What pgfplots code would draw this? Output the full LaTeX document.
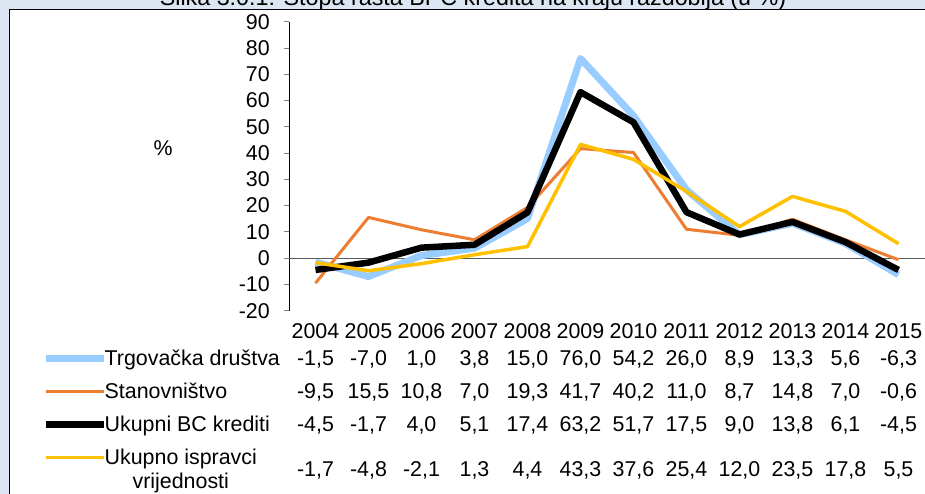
\documentclass[border=0pt]{standalone}
\usepackage{fontspec}
\setmainfont{Liberation Sans}
\usepackage{pgfplots}
\pgfplotsset{compat=1.18}
\definecolor{bg}{HTML}{DCE6F2}
\definecolor{trg}{RGB}{153,204,255}
\definecolor{stan}{HTML}{ED7D31}
\definecolor{isp}{HTML}{FFC000}
\definecolor{zeroline}{HTML}{595959}
\begin{document}
\fontsize{21.4}{24}\selectfont
\begin{tikzpicture}[x=1pt,y=1pt]
\fill[bg] (-289,-183.3) rectangle (636,310.7);
\filldraw[fill=white, draw=black, line width=1.8pt] (-279.5,301.2) rectangle (660,-220);
\node[anchor=base, inner sep=0pt, font=\fontsize{23.3}{26}\selectfont] at (184,304.7) {Slika 3.0.1: Stopa rasta BPC kredita na kraju razdoblja (u \%)};
\begin{axis}[
  scale only axis, width=636pt, height=289pt,
  xmin=-0.5, xmax=11.5, ymin=-20, ymax=90,
  axis lines=left, axis line style={-, line width=0.8pt},
  x axis line style={draw=none},
  xtick={0,...,11},
  xticklabels={2004,2005,2006,2007,2008,2009,2010,2011,2012,2013,2014,2015},
  xtick style={draw=none},
  ytick={-20,-10,...,90},
  tick align=outside, major tick length=5pt,
  ytick style={line width=0.8pt},
  /pgf/number format/assume math mode=true,
  tick label style={font=\fontsize{21.4}{24}\selectfont},
  xticklabel style={anchor=base, inner sep=0pt, yshift=-23pt},
  yticklabel style={anchor=east, inner sep=0pt, xshift=-14pt},
  ylabel={\%}, ylabel style={rotate=-90, anchor=center, font=\fontsize{21.4}{24}\selectfont},
  every axis y label/.style={at={(axis description cs:-0.198,0.563)}},
  legend cell align=left,
  legend style={at={(axis description cs:-0.3873,-0.1377)}, anchor=north west,
    draw=none, fill=none, inner sep=0pt, outer sep=0pt,
    nodes={inner sep=0pt, anchor=base west, text height=15pt, text depth=5pt},
    row sep=13pt, column sep=-3pt,
    font=\fontsize{21.4}{24}\selectfont},
  legend image code/.code={\draw[#1] (0pt,7pt) -- (58pt,7pt);},
  line join=round,
]
\addplot[zeroline, line width=0.8pt, forget plot] coordinates {(-0.5,0) (11.5,0)};
\addplot[trg, line width=7pt] coordinates {(0,-1.5) (1,-7.0) (2,1.0) (3,3.8) (4,15.0) (5,76.0) (6,54.2) (7,26.0) (8,8.9) (9,13.3) (10,5.6) (11,-6.3)};
\addlegendentry{Trgovačka društva}
\addplot[stan, line width=3pt] coordinates {(0,-9.5) (1,15.5) (2,10.8) (3,7.0) (4,19.3) (5,41.7) (6,40.2) (7,11.0) (8,8.7) (9,14.8) (10,7.0) (11,-0.6)};
\addlegendentry{Stanovništvo}
\addplot[black, line width=6.5pt] coordinates {(0,-4.5) (1,-1.7) (2,4.0) (3,5.1) (4,17.4) (5,63.2) (6,51.7) (7,17.5) (8,9.0) (9,13.8) (10,6.1) (11,-4.5)};
\addlegendentry{Ukupni BC krediti}
\addplot[isp, line width=3.5pt] coordinates {(0,-1.7) (1,-4.8) (2,-2.1) (3,1.3) (4,4.4) (5,43.3) (6,37.6) (7,25.4) (8,12.0) (9,23.5) (10,17.8) (11,5.5)};
\addlegendentry{\begin{tabular}[t]{@{}c@{}}Ukupno ispravci\\vrijednosti\end{tabular}}
\end{axis}
\foreach \v [count=\i from 0] in {{-1,5},{-7,0},{1,0},{3,8},{15,0},{76,0},{54,2},{26,0},{8,9},{13,3},{5,6},{-6,3}}
  \node[anchor=base, inner sep=0pt] at (26.5+53*\i,-55.3) {\v};
\foreach \v [count=\i from 0] in {{-9,5},{15,5},{10,8},{7,0},{19,3},{41,7},{40,2},{11,0},{8,7},{14,8},{7,0},{-0,6}}
  \node[anchor=base, inner sep=0pt] at (26.5+53*\i,-88.3) {\v};
\foreach \v [count=\i from 0] in {{-4,5},{-1,7},{4,0},{5,1},{17,4},{63,2},{51,7},{17,5},{9,0},{13,8},{6,1},{-4,5}}
  \node[anchor=base, inner sep=0pt] at (26.5+53*\i,-121.3) {\v};
\foreach \v [count=\i from 0] in {{-1,7},{-4,8},{-2,1},{1,3},{4,4},{43,3},{37,6},{25,4},{12,0},{23,5},{17,8},{5,5}}
  \node[anchor=base, inner sep=0pt] at (26.5+53*\i,-165.3) {\v};
\pgfresetboundingbox
\useasboundingbox (-289,-183.3) rectangle (636,310.7);
\end{tikzpicture}
\end{document}
